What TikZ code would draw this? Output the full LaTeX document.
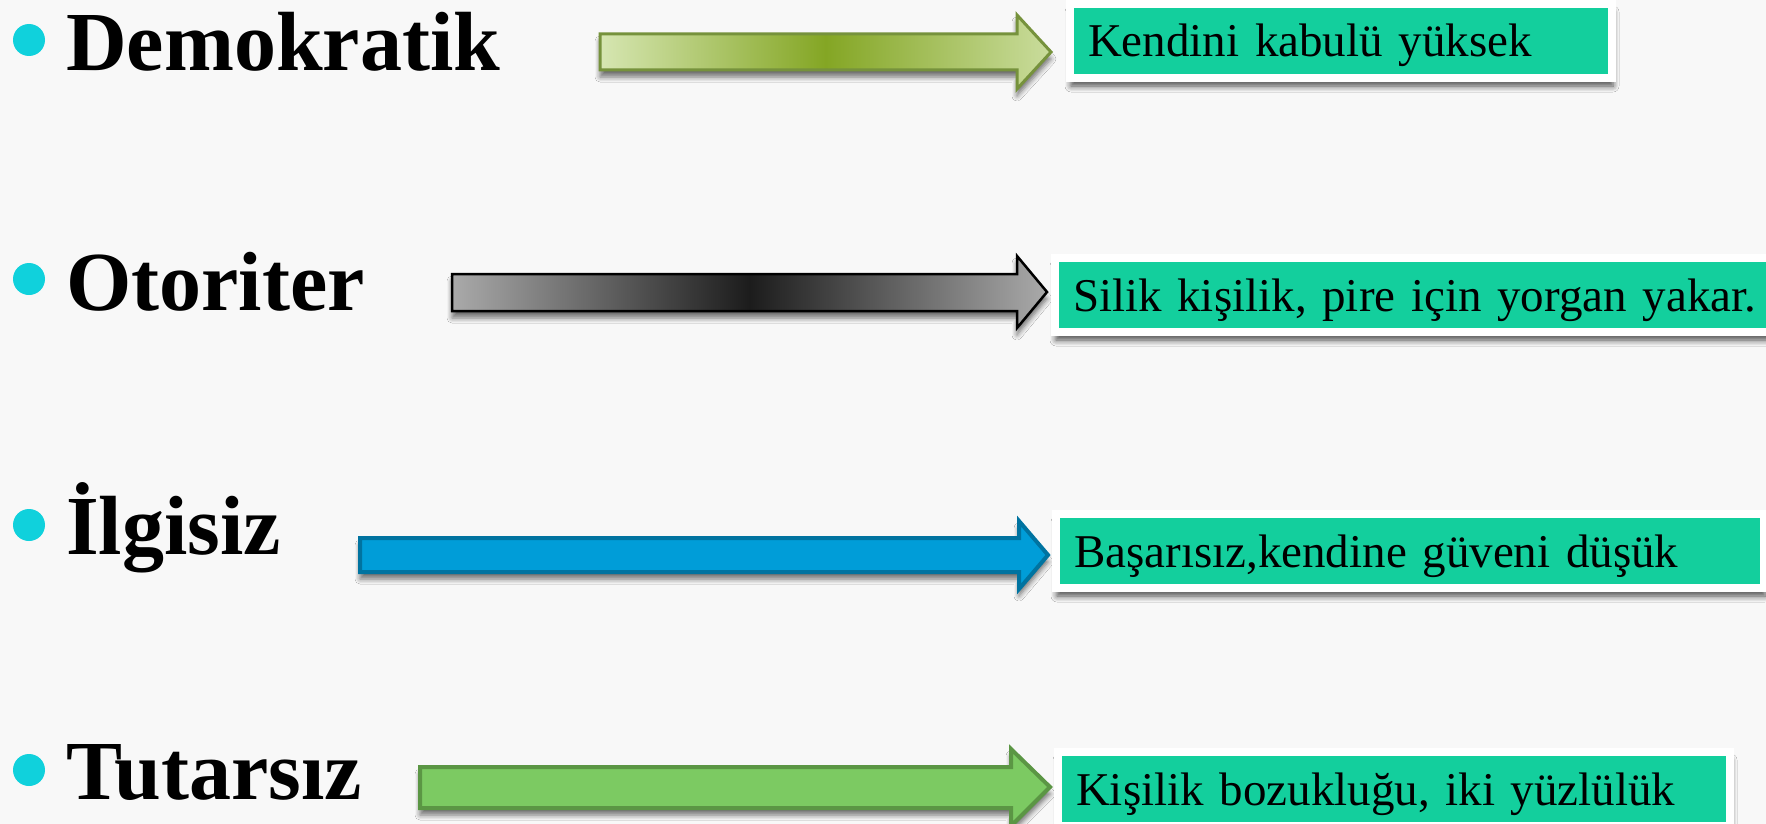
\documentclass[tikz,border=0pt]{standalone}
\usepackage{fontspec}
\setmainfont{Liberation Serif}
\usepackage{xcolor}
\usetikzlibrary{shadows, shadows.blur}
\definecolor{cbg}{RGB}{248,248,248}
\definecolor{cbullet}{RGB}{16,209,220}
\definecolor{cbox}{RGB}{19,207,157}
\definecolor{cgreenlight}{RGB}{214,230,178}
\definecolor{cgreendark}{RGB}{132,166,36}
\definecolor{cgreenline}{RGB}{118,146,60}
\definecolor{cgraylight}{RGB}{170,170,170}
\definecolor{cgraydark}{RGB}{28,28,28}
\definecolor{cblue}{RGB}{0,157,216}
\definecolor{cblueline}{RGB}{0,115,160}
\definecolor{clime}{RGB}{124,202,98}
\definecolor{climeline}{RGB}{91,150,68}

\begin{document}
\begin{tikzpicture}[
    x=1pt, y=-1pt,
    rowtitle/.style={font=\fontsize{84}{90}\selectfont\bfseries, anchor=base west, inner sep=0pt},
    rowdot/.style={circle, fill=cbullet, minimum size=32pt, inner sep=0pt},
    descbox/.style={draw=white, line width=8pt, fill=cbox, anchor=west, align=left,
        minimum height=74pt, inner xsep=18pt, inner ysep=0pt, text height=32pt, text depth=0pt,
        font=\fontsize{47}{52}\selectfont,
        blur shadow={shadow xshift=1pt, shadow yshift=-8pt, shadow blur radius=6pt,
            shadow blur steps=6, shadow opacity=70}},
    blockarrow/.style={line join=miter,
        blur shadow={shadow xshift=0pt, shadow yshift=-7pt, shadow blur radius=5pt,
            shadow blur steps=5, shadow opacity=55}},
    arrowdemo/.style={blockarrow, draw=cgreenline, line width=3pt,
        left color=cgreenlight, right color=cgreenlight!85!cgreendark, middle color=cgreendark},
    arrowoto/.style={blockarrow, draw=black, line width=2.5pt,
        left color=cgraylight, right color=cgraylight, middle color=cgraydark},
    arrowilg/.style={blockarrow, draw=cblueline, line width=4pt, fill=cblue},
    arrowtut/.style={blockarrow, draw=climeline, line width=4pt, fill=clime},
]
    % background and page size
    \fill[cbg] (0,0) rectangle (1766,824);
    \useasboundingbox (0,0) rectangle (1766,824);

    % Demokratik
    \node[rowdot] (d1) at (29,40) {};
    \node[rowtitle] (t1) at (66,71) {Demokratik};
    \draw[arrowdemo] (600,34) -- (1017,34) -- (1017,15) -- (1051,52) -- (1017,89) -- (1017,70) -- (600,70) -- cycle;
    \node[descbox, text width=506pt] (b1) at (1066,41) {Kendini kabulü yüksek};

    % Otoriter
    \node[rowdot] (d2) at (29,279) {};
    \node[rowtitle] (t2) at (66,310) {Otoriter};
    \draw[arrowoto] (452,274) -- (1017,274) -- (1017,256) -- (1047,292) -- (1017,328) -- (1017,311) -- (452,311) -- cycle;
    \node[descbox, text width=704pt] (b2) at (1051,295) {Silik kişilik, pire için yorgan yakar.};

    % İlgisiz
    \node[rowdot] (d3) at (29,525) {};
    \node[rowtitle] (t3) at (66,554) {İlgisiz};
    \draw[arrowilg] (360,538) -- (1019,538) -- (1019,521) -- (1048,555) -- (1019,589) -- (1019,572) -- (360,572) -- cycle;
    \node[descbox, text width=672pt] (b3) at (1052,551) {Başarısız,kendine güveni düşük};

    % Tutarsız
    \node[rowdot] (d4) at (29,770) {};
    \node[rowtitle] (t4) at (66,799) {Tutarsız};
    \draw[arrowtut] (420,767) -- (1011,767) -- (1011,749) -- (1050,787) -- (1011,826) -- (1011,808) -- (420,808) -- cycle;
    \node[descbox, text width=636pt] (b4) at (1054,789) {Kişilik bozukluğu, iki yüzlülük};
\end{tikzpicture}
\end{document}
